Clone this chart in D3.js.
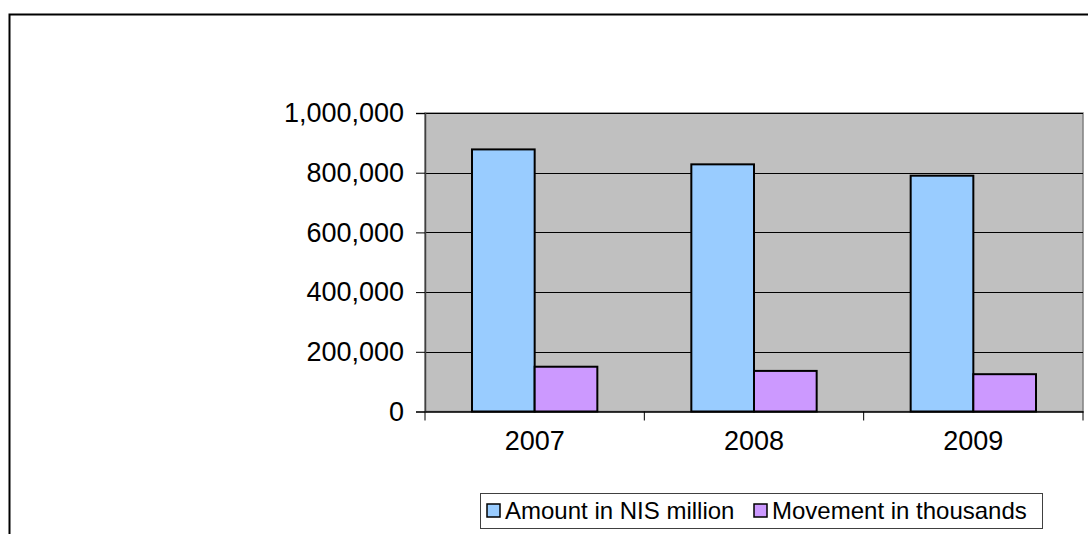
<!DOCTYPE html>
<html>
<head>
<meta charset="utf-8">
<script src="https://cdn.jsdelivr.net/npm/d3@7"></script>
<style>
  html, body { margin: 0; padding: 0; background: #fff; }
  svg { display: block; }
  text { font-family: Arial, "Liberation Sans", sans-serif; fill: #000; }
</style>
</head>
<body>
<svg id="chart" width="1088" height="534"></svg>
<script>
// Data
const years = ["2007", "2008", "2009"];
const seriesNames = ["Amount in NIS million", "Movement in thousands"];
const amountValues = [878000, 828000, 790000];
const movementValues = [150000, 136000, 125000];
const yTicks = [0, 200000, 400000, 600000, 800000, 1000000];
const seriesColors = ["#99ccff", "#cc99ff"];

const svg = d3.select("#chart");

// Outer chart frame (extends past right and bottom edges)
svg.append("rect")
  .attr("x", 9.5).attr("y", 14.5)
  .attr("width", 1100).attr("height", 540)
  .attr("fill", "#fff")
  .attr("stroke", "#000").attr("stroke-width", 2);

const plot = { left: 425, top: 113, right: 1083, bottom: 411.5 };

const x = d3.scaleBand().domain(years).range([plot.left, plot.right]).padding(0);
const xs = d3.scaleBand().domain(seriesNames).range([0, x.bandwidth()])
  .paddingInner(0).paddingOuter(0.75);
const y = d3.scaleLinear().domain([0, 1000000]).range([plot.bottom, plot.top]);

// Plot area background
svg.append("rect")
  .attr("x", plot.left).attr("y", plot.top)
  .attr("width", plot.right - plot.left).attr("height", plot.bottom - plot.top)
  .attr("fill", "#c0c0c0")
  .attr("stroke", "#808080").attr("stroke-width", 1.5);

// Horizontal gridlines
svg.append("g").selectAll("line")
  .data(yTicks.filter(d => d > 0))
  .join("line")
  .attr("x1", plot.left).attr("x2", plot.right)
  .attr("y1", d => Math.round(y(d)) + 0.5).attr("y2", d => Math.round(y(d)) + 0.5)
  .attr("stroke", "#000").attr("stroke-width", 1);

// Bars
const data = years.map((yr, i) => ({
  year: yr,
  values: [
    { name: seriesNames[0], value: amountValues[i], color: seriesColors[0] },
    { name: seriesNames[1], value: movementValues[i], color: seriesColors[1] }
  ]
}));

svg.append("g").selectAll("g")
  .data(data)
  .join("g")
  .attr("transform", d => `translate(${x(d.year)},0)`)
  .selectAll("rect")
  .data(d => d.values)
  .join("rect")
  .attr("x", d => xs(d.name))
  .attr("y", d => y(d.value))
  .attr("width", xs.bandwidth())
  .attr("height", d => y(0) - y(d.value))
  .attr("fill", d => d.color)
  .attr("stroke", "#000").attr("stroke-width", 2);

// Y axis
const yAxis = d3.axisLeft(y)
  .tickValues(yTicks)
  .tickSize(9)
  .tickPadding(12)
  .tickFormat(d3.format(","));
const gy = svg.append("g")
  .attr("transform", `translate(${plot.left},0)`)
  .call(yAxis);
gy.select(".domain").attr("stroke", "#404040").attr("stroke-width", 1.5);
gy.selectAll(".tick line").attr("stroke", "#000");
gy.selectAll(".tick text").attr("font-size", 27).attr("fill", "#000")
  .attr("font-family", "Arial, 'Liberation Sans', sans-serif");

// X axis
const gx = svg.append("g")
  .attr("transform", `translate(0,${plot.bottom})`)
  .call(d3.axisBottom(x).tickSize(0).tickPadding(19));
gx.select(".domain").attr("stroke", "#000").attr("stroke-width", 1.5);
gx.selectAll(".tick text").attr("font-size", 27).attr("fill", "#000")
  .attr("font-family", "Arial, 'Liberation Sans', sans-serif");

// Category separator ticks
const boundaries = years.map(yr => x(yr)).concat([x(years[years.length - 1]) + x.bandwidth()]);
svg.append("g").selectAll("line")
  .data(boundaries)
  .join("line")
  .attr("x1", d => d).attr("x2", d => d)
  .attr("y1", plot.bottom).attr("y2", plot.bottom + 9)
  .attr("stroke", "#000").attr("stroke-width", 1);

// Legend
const legend = svg.append("g");
legend.append("rect")
  .attr("x", 480.5).attr("y", 493.5)
  .attr("width", 562).attr("height", 35)
  .attr("fill", "#fff")
  .attr("stroke", "#404040").attr("stroke-width", 1);

const legendItems = [
  { name: seriesNames[0], color: seriesColors[0], x: 487 },
  { name: seriesNames[1], color: seriesColors[1], x: 754 }
];
const li = legend.selectAll("g.item")
  .data(legendItems)
  .join("g")
  .attr("class", "item")
  .attr("transform", d => `translate(${d.x},504)`);
li.append("rect")
  .attr("x", 0).attr("y", 0)
  .attr("width", 13).attr("height", 13)
  .attr("fill", d => d.color)
  .attr("stroke", "#000").attr("stroke-width", 1.5);
li.append("text")
  .attr("x", 18).attr("y", 15)
  .attr("font-size", 24)
  .text(d => d.name);
</script>
</body>
</html>
